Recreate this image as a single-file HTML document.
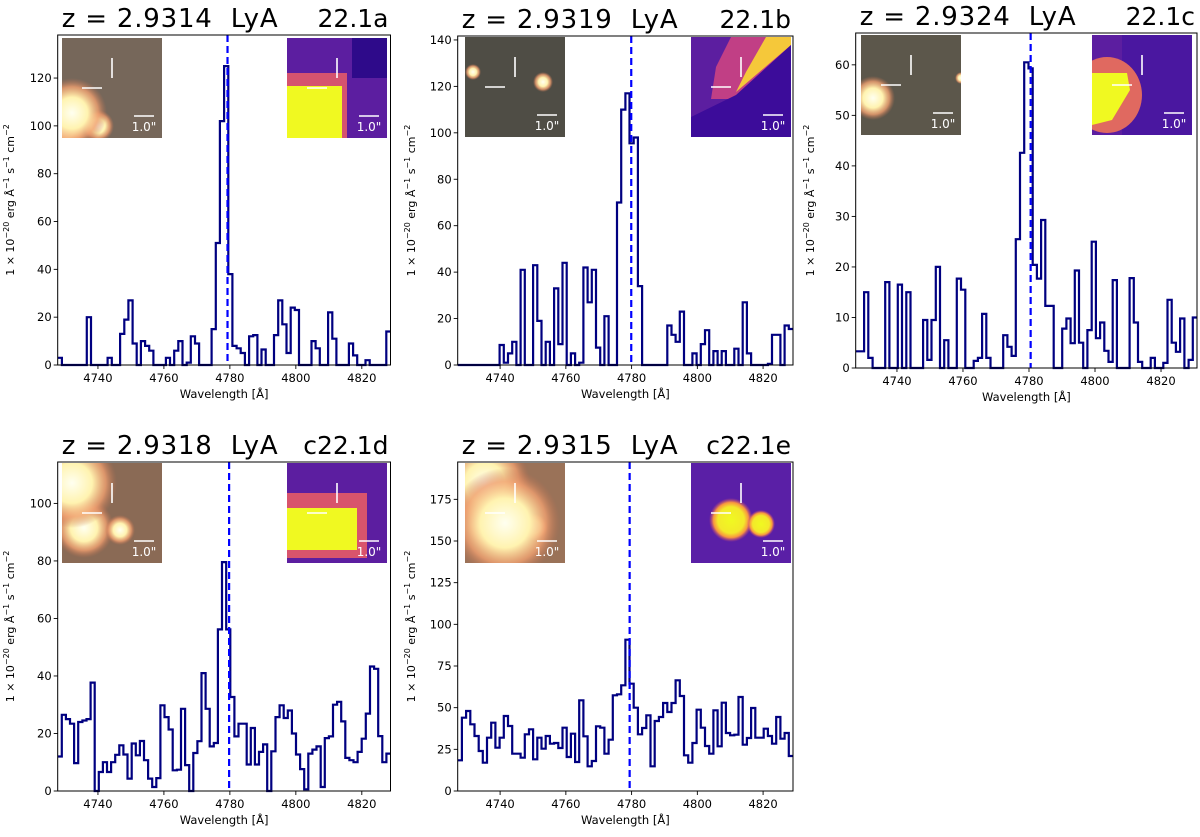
<!DOCTYPE html>
<html><head><meta charset="utf-8"><style>
html,body{margin:0;padding:0;background:#fff;}
svg{display:block;font-family:"DejaVu Sans","Liberation Sans",sans-serif;}
.ttl{white-space:pre;}
</style></head><body>
<svg id="fig" width="1200" height="837" viewBox="0 0 1200 837" xmlns="http://www.w3.org/2000/svg">
<defs>
<clipPath id="insetClip"><rect x="0" y="0" width="100" height="100"/></clipPath>
<radialGradient id="gStar"><stop offset="0" stop-color="#fffff0"/><stop offset="0.45" stop-color="#fff3b0"/><stop offset="0.75" stop-color="#f0a070" stop-opacity="0.8"/><stop offset="1" stop-color="#c07050" stop-opacity="0"/></radialGradient>
<radialGradient id="gYel"><stop offset="0" stop-color="#f0f921"/><stop offset="0.6" stop-color="#f3e92a"/><stop offset="0.8" stop-color="#f89540"/><stop offset="1" stop-color="#cc4778" stop-opacity="0"/></radialGradient>
</defs>
</svg>
<script>
const wavelengthTicks = [4740, 4760, 4780, 4800, 4820];
const redshifts = [2.9314, 2.9319, 2.9324, 2.9318, 2.9315];
const panelIds = ["22.1a", "22.1b", "22.1c", "c22.1d", "c22.1e"];
const yTicksA = [0, 20, 40, 60, 80, 100, 120];
const yTicksB = [0, 20, 40, 60, 80, 100, 120, 140];
const yTicksC = [0, 10, 20, 30, 40, 50, 60];
const yTicksD = [0, 20, 40, 60, 80, 100];
const yTicksE = [0, 25, 50, 75, 100, 125, 150, 175];
const fluxA = [3,0,0,0,0,0,0,20,0,0,0,0,3,0,0,13,19,27,9,0,10,8,6,0,0,0,3,0,6,10,0,1,12,9,0,0,0,15,51,102,125,38,8,7,5,0,12,12.5,0,6.5,0,0,12.5,27,17,5,24,23,0,0,0,10,7,0,0,22,11,0,0,0,9,4,0,0,2,0,0,0,0,14];
const fluxB = [0,0,0,0,0,0,0,0,0,0,8.6,1,5,10,0,41,0,0,43,19,0,10,0,33,9,44,0,5,0,1,42,27,41,7.5,0,21,0,0,70,110,117,95.5,98,34,0,0,0,0,0,0,17,13,10,23,0,0,5,0,9,15,0,6,0,6,0,0,7,0,27,5,0,0,0,0,0.5,13,13,0,17,15.5];
const fluxC = [3.3,3.3,15,2,0,0,0,17,0,0,16.5,0,15,0,0,0,9.5,1.6,9.5,20,0,5.5,0,0,17.7,15.5,0,0,1.4,2,10.7,2,0,0,0,6.5,4.2,2.4,25.5,42.6,60.5,59.3,20.4,17.7,29.3,12.3,12.3,0,0,7.8,9.8,4.9,19.3,5,0,7.5,25,5.9,9,3.4,1.2,17.4,0,0,0,17.8,9,1.2,0,0,2,0,0,1,13.5,5,3.2,9.8,0,1.6,10];
const fluxD = [12,26.5,25,23.4,9.7,24,24.5,25,37.7,0,6.6,10,6.6,10,12.6,15.9,12.7,4.3,16.5,12.4,17.4,10.7,4.3,1.4,4.5,29.8,25.7,21.4,7.2,7.4,28.6,9,0,13.2,17.3,41,28.6,15.5,16.7,56.2,79.6,56.2,32.7,19,23.4,23.4,9.2,21.9,9.2,13.6,16.2,0,13.8,25.7,29.8,25.4,28,20,12.7,7.6,0.6,13,14.4,15.5,1.4,18.4,19,30,31,24.2,11.5,10.7,10,13.6,18.2,26.9,43.3,42.5,19.1,10,13];
const fluxE = [18.4,44,48,40,33,24,17,32,41,26,32,45,39,22.4,22.4,20,34,37,19,32,25.4,33,28.4,28.8,25.8,38,20.4,34.4,17.4,54.4,32.8,14.8,18,38.8,38,22.4,30.8,57.4,58,63.4,90.8,64.4,50,34,37.8,45.4,14.8,42,44.4,52.8,47.4,52.8,66.4,57,21.4,17,28.8,48.8,38,27,22.4,48.4,26.8,53,34.8,33.4,33.8,56.4,27.8,31.8,49.8,32,32,37.4,33,28.4,44.4,31.4,34.8,21];
const LYA_REST = 1215.67;

const NS = "http://www.w3.org/2000/svg";
const svg = document.getElementById("fig");
function mk(tag, attrs, parent, text) {
  const e = document.createElementNS(NS, tag);
  for (const k in attrs) e.setAttribute(k, attrs[k]);
  if (text !== undefined) e.textContent = text;
  (parent || svg).appendChild(e);
  return e;
}

const panels = [
  {flux: fluxA, yt: yTicksA, x0: 57.7, x1: 390.5, y0: 35, y1: 365, wmin: 4727.8, wmax: 4828.7, ymax: 138, ix: [62, 287], iy: 38, k: "a", ylx: 14},
  {flux: fluxB, yt: yTicksB, x0: 457.7, x1: 793, y0: 36, y1: 365, wmin: 4727.1, wmax: 4829.1, ymax: 141.7, ix: [465, 691], iy: 37, k: "b", ylx: 415},
  {flux: fluxC, yt: yTicksC, x0: 855.7, x1: 1197, y0: 33, y1: 368, wmin: 4727.5, wmax: 4830.9, ymax: 66.3, ix: [861, 1092], iy: 35, k: "c", ylx: 814},
  {flux: fluxD, yt: yTicksD, x0: 57.7, x1: 390.5, y0: 462, y1: 791, wmin: 4727.8, wmax: 4828.7, ymax: 114.4, ix: [62, 287], iy: 463, k: "d", ylx: 14},
  {flux: fluxE, yt: yTicksE, x0: 457.7, x1: 793, y0: 462, y1: 791, wmin: 4727.1, wmax: 4829.1, ymax: 197.4, ix: [465, 691], iy: 463, k: "e", ylx: 415},
];

function drawLeftInset(g, k) {
  const bg = {a: "#76675a", b: "#4f4d45", c: "#5c574b", d: "#8a6a55", e: "#9a7258"}[k];
  mk("rect", {x: 0, y: 0, width: 100, height: 100, fill: bg}, g);
  const blobs = {
    a: [[3, 90, 22], [36, 88, 16], [10, 75, 35]],
    b: [[8, 35, 8], [78, 45, 10]],
    c: [[12, 63, 22], [100, 43, 6]],
    d: [[22, 65, 30], [58, 67, 15], [10, 20, 45]],
    e: [[30, 58, 32], [69, 64, 14], [20, 20, 45], [40, 60, 55]]
  }[k];
  blobs.forEach(b => mk("circle", {cx: b[0], cy: b[1], r: b[2], fill: "url(#gStar)"}, g));
}
function drawRightInset(g, k) {
  mk("rect", {x: 0, y: 0, width: 100, height: 100, fill: "#5c1ea0"}, g);
  if (k === "a") {
    mk("rect", {x: 0, y: 35, width: 60, height: 65, fill: "#d5536f"}, g);
    mk("rect", {x: 0, y: 48, width: 55, height: 52, fill: "#f0f921"}, g);
    mk("rect", {x: 65, y: 0, width: 35, height: 40, fill: "#2e0a8a"}, g);
  } else if (k === "b") {
    mk("polygon", {points: "40,0 100,0 100,8 45,62 20,62 25,30", fill: "#c13f85"}, g);
    mk("polygon", {points: "75,0 100,0 100,8 45,55 55,35", fill: "#f5c83a"}, g);
    mk("polygon", {points: "100,8 100,100 0,100 0,80 45,58", fill: "#3c0c9a"}, g);
  } else if (k === "c") {
    mk("rect", {x: 30, y: 0, width: 70, height: 100, fill: "#4a17a0"}, g);
    mk("ellipse", {cx: 15, cy: 60, rx: 35, ry: 38, fill: "#e06960"}, g);
    mk("polygon", {points: "0,38 35,38 38,55 20,85 0,90", fill: "#f0f921"}, g);
  } else if (k === "d") {
    mk("rect", {x: 0, y: 30, width: 80, height: 65, fill: "#d8546c"}, g);
    mk("rect", {x: 0, y: 45, width: 70, height: 42, fill: "#f0f921"}, g);
  } else {
    mk("rect", {x: 0, y: 0, width: 100, height: 100, fill: "#5a1fa6"}, g);
    mk("circle", {cx: 40, cy: 57, r: 22, fill: "url(#gYel)"}, g);
    mk("circle", {cx: 70, cy: 61, r: 14, fill: "url(#gYel)"}, g);
  }
}
function drawMarks(g) {
  mk("line", {x1: 50, y1: 20, x2: 50, y2: 40, stroke: "#fff", "stroke-width": 1.6}, g);
  mk("line", {x1: 20, y1: 50, x2: 40, y2: 50, stroke: "#fff", "stroke-width": 1.6}, g);
  mk("line", {x1: 72, y1: 78, x2: 92, y2: 78, stroke: "#fff", "stroke-width": 1.4}, g);
  mk("text", {x: 82, y: 93, fill: "#fff", "font-size": 12, "text-anchor": "middle"}, g, '1.0"');
}

panels.forEach((p, i) => {
  const pg = mk("g", {});
  
  
  const xs = w => p.x0 + (w - p.wmin) / (p.wmax - p.wmin) * (p.x1 - p.x0);
  const ys = v => p.y1 - v / p.ymax * (p.y1 - p.y0);

  const n = p.flux.length;
  const step = (p.wmax - p.wmin) / n;
  let d = "";
  p.flux.forEach((v, j) => {
    const xa = xs(p.wmin + j * step), xb = xs(p.wmin + (j + 1) * step), y = ys(v);
    d += (j === 0 ? "M" : "L") + xa.toFixed(1) + "," + y.toFixed(1) + "L" + xb.toFixed(1) + "," + y.toFixed(1);
  });
  const sl = mk("path", {d: d, fill: "none", stroke: "#000080", "stroke-width": 2.2}, pg);
  
  

  const lw = LYA_REST * (1 + redshifts[i]);
  const dl = mk("line", {x1: xs(lw), x2: xs(lw), y1: p.y0, y2: p.y1, stroke: "#0000ff", "stroke-width": 2.2, "stroke-dasharray": "7,4"}, pg);
  
  

  const gl = mk("g", {transform: "translate(" + p.ix[0] + "," + p.iy + ")"}, pg);
  
  
  const glc = mk("g", {"clip-path": "url(#insetClip)"}, gl);
  drawLeftInset(glc, p.k); drawMarks(glc);
  const gr = mk("g", {transform: "translate(" + p.ix[1] + "," + p.iy + ")"}, pg);
  
  
  const grc = mk("g", {"clip-path": "url(#insetClip)"}, gr);
  drawRightInset(grc, p.k); drawMarks(grc);

  const fr = mk("rect", {x: p.x0, y: p.y0, width: p.x1 - p.x0, height: p.y1 - p.y0, fill: "none", stroke: "#000", "stroke-width": 1}, pg);
  
  

  wavelengthTicks.forEach(t => {
    const x = xs(t);
    mk("line", {x1: x, x2: x, y1: p.y1, y2: p.y1 + 4, stroke: "#000", "stroke-width": 0.9}, pg);
    const tl = mk("text", {x: x, y: p.y1 + 17, "font-size": 11.5, "text-anchor": "middle"}, pg, String(t));
    
    
  });
  p.yt.forEach(t => {
    const y = ys(t);
    mk("line", {x1: p.x0 - 4, x2: p.x0, y1: y, y2: y, stroke: "#000", "stroke-width": 0.9}, pg);
    const tl = mk("text", {x: p.x0 - 6, y: y + 4, "font-size": 11.5, "text-anchor": "end"}, pg, String(t));
    
    
  });
  const xt = mk("text", {x: (p.x0 + p.x1) / 2, y: p.y1 + 33, "font-size": 11.5, "text-anchor": "middle"}, pg, "Wavelength [Å]");
  
  
  const cy = (p.y0 + p.y1) / 2;
  const yt = mk("text", {x: p.ylx, y: cy, "font-size": 11, "text-anchor": "middle", transform: "rotate(-90 " + p.ylx + " " + cy + ")"}, pg);
  
  
  yt.innerHTML = '1 × 10<tspan dy="-5" font-size="8">−20</tspan><tspan dy="5"> erg Å</tspan><tspan dy="-5" font-size="8">−1</tspan><tspan dy="5"> s</tspan><tspan dy="-5" font-size="8">−1</tspan><tspan dy="5"> cm</tspan><tspan dy="-5" font-size="8">−2</tspan>';
  const t1 = mk("text", {x: p.x0 + 4, y: p.y0 - 8, "font-size": 26, "letter-spacing": 0.8, "class": "ttl"}, pg, "z = " + redshifts[i].toFixed(4) + "  LyA");
  
  
  const t2 = mk("text", {x: p.x1 - 2, y: p.y0 - 8, "font-size": 25, "text-anchor": "end"}, pg, panelIds[i]);
  
  
});
</script>
</body></html>
